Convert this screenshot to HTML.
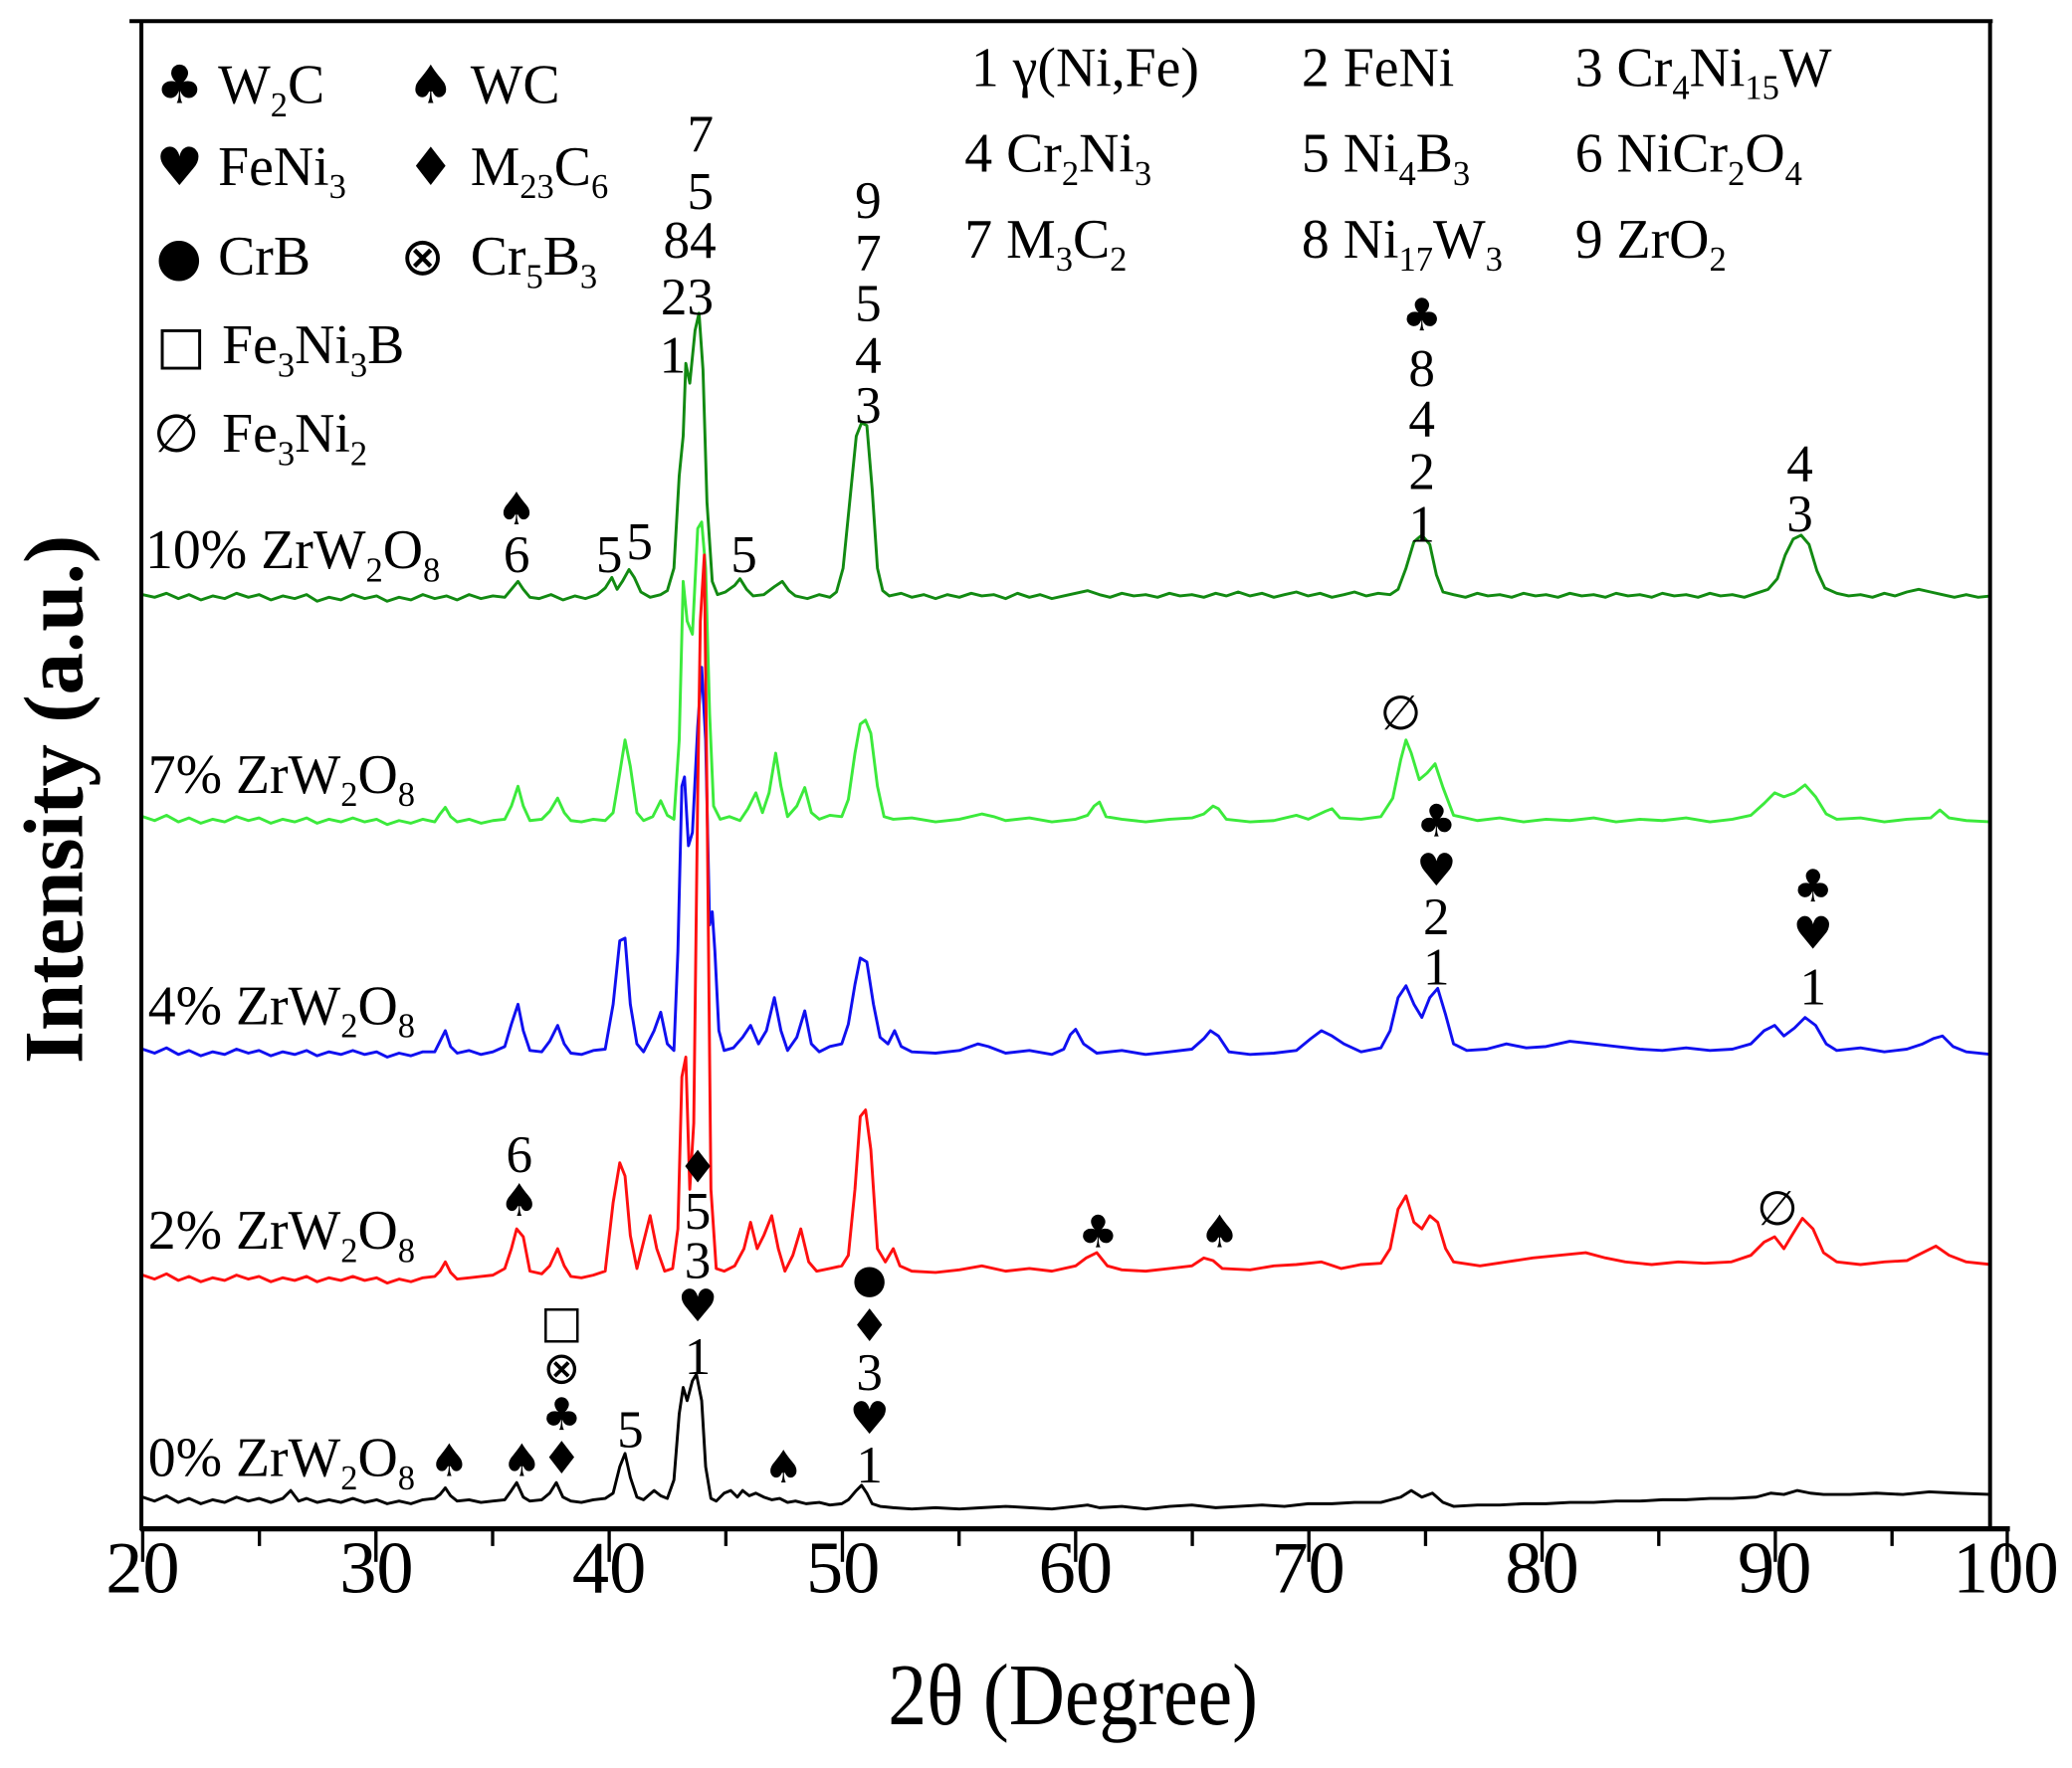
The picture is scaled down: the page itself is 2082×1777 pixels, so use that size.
<!DOCTYPE html>
<html><head><meta charset="utf-8"><style>
html,body{margin:0;padding:0;background:#fff;}
svg{display:block;}
text{font-family:"Liberation Serif","DejaVu Serif",serif;fill:#000;}
.s{font-family:"DejaVu Sans",sans-serif;}
</style></head><body>
<svg width="2082" height="1777" viewBox="0 0 1568 1338" preserveAspectRatio="none" xmlns="http://www.w3.org/2000/svg">
<rect width="1568" height="1338" fill="#fff"/>
<g fill="none" stroke-width="2.2" stroke-linejoin="round">
<polyline stroke="#128a12" points="108,450 117,452 126,449 135,453 143,450 152,454 161,451 170,453 179,449 188,452 196,450 205,454 214,451 223,453 232,450 240,455 249,452 258,454 267,450 276,453 285,451 293,455 302,452 311,454 320,450 329,453 338,451 346,454 355,450 364,453 373,451 382,452 387,446 392,440 396,446 401,452 408,453 417,450 426,454 435,451 443,453 452,450 458,445 463,437 467,446 471,440 476,431 480,437 485,448 492,452 500,450 505,447 510,430 514,360 517,330 519,275 522,290 526,250 529,237 532,280 535,380 539,440 543,450 549,448 556,443 560,438 565,446 570,451 578,450 586,444 592,440 597,447 602,451 611,453 620,450 628,452 633,448 638,430 643,380 648,330 652,320 656,322 660,370 664,430 668,447 673,451 682,449 690,452 699,450 708,453 717,450 726,452 735,449 743,451 752,450 761,453 770,449 779,452 787,450 796,453 805,451 814,449 823,447 832,450 840,452 849,449 858,451 867,450 876,452 885,449 893,451 902,450 911,452 920,449 928,451 937,448 946,451 955,449 964,452 972,450 981,448 990,451 999,449 1008,452 1017,450 1025,448 1034,451 1043,449 1052,450 1058,446 1064,430 1070,410 1076,405 1082,412 1087,435 1092,448 1100,450 1109,452 1118,449 1126,451 1135,450 1144,452 1153,449 1162,451 1170,450 1179,452 1188,449 1197,451 1206,450 1215,452 1223,449 1232,451 1241,450 1250,452 1258,449 1267,451 1276,450 1285,452 1294,449 1302,451 1311,450 1320,452 1329,449 1338,446 1345,438 1351,420 1357,408 1363,405 1369,412 1375,432 1381,445 1390,449 1399,451 1408,450 1417,452 1426,449 1434,451 1443,448 1452,446 1461,448 1470,450 1479,452 1488,450 1497,452 1507,451"/>
<polyline stroke="#3cea3c" points="108,618 117,621 126,617 135,622 143,619 152,623 161,620 170,622 179,618 188,621 196,619 205,623 214,620 223,622 232,619 240,623 249,620 258,622 267,619 276,622 285,620 293,624 302,621 311,623 320,620 329,622 333,616 337,611 341,618 346,622 355,620 364,623 373,621 382,620 387,610 392,595 396,610 401,621 410,620 416,614 422,604 427,615 432,621 440,622 449,620 458,621 464,615 469,585 473,560 477,580 482,615 487,621 494,618 500,606 505,617 510,620 514,560 517,440 520,470 524,480 528,400 531,395 534,430 537,540 540,610 545,620 552,618 560,621 566,612 572,600 577,615 582,600 587,570 591,595 596,618 603,610 609,596 614,615 620,620 628,617 637,618 642,605 647,570 651,548 655,545 659,555 664,595 669,618 676,620 690,619 708,622 726,620 743,616 752,618 761,621 779,619 796,622 814,620 823,617 828,610 832,607 837,618 849,620 867,622 885,620 902,619 911,616 918,610 922,612 928,620 946,622 964,621 981,617 990,620 1003,614 1008,612 1014,619 1030,620 1045,618 1054,604 1060,575 1064,560 1068,570 1074,590 1080,585 1086,578 1092,596 1100,617 1118,621 1135,619 1153,622 1170,620 1188,621 1206,619 1223,622 1241,620 1258,621 1276,619 1294,622 1311,620 1325,617 1335,608 1343,600 1350,603 1358,600 1366,594 1374,603 1382,616 1390,620 1408,619 1426,622 1443,620 1461,619 1468,613 1475,619 1488,621 1507,622"/>
<polyline stroke="#1010f0" points="108,794 117,797 126,793 135,798 143,795 152,799 161,796 170,798 179,794 188,797 196,795 205,799 214,796 223,798 232,795 240,799 249,796 258,798 267,795 276,798 285,796 293,800 302,797 311,799 320,796 329,796 333,788 337,780 341,792 346,797 355,795 364,798 373,796 382,792 387,775 392,760 396,780 401,795 410,796 416,788 422,776 427,790 432,797 440,798 449,795 458,794 464,760 469,712 473,710 477,760 482,790 487,796 495,780 500,766 505,790 510,795 513,720 516,595 518,588 521,640 524,630 528,550 531,505 534,560 537,700 539,690 541,720 544,780 548,795 555,793 562,785 568,776 574,790 580,780 586,755 591,780 596,795 603,785 609,765 614,790 620,796 628,792 637,790 642,775 647,745 651,725 656,728 661,760 666,785 672,790 677,780 682,792 690,796 708,797 726,795 740,790 748,792 761,797 779,795 796,798 805,794 810,783 814,779 820,790 830,797 849,795 867,798 885,796 902,794 911,786 916,780 922,784 930,796 946,798 964,797 981,795 992,786 1000,780 1008,784 1017,790 1030,796 1045,793 1052,780 1058,755 1064,746 1070,760 1076,770 1082,755 1088,748 1094,768 1100,790 1110,795 1125,794 1140,790 1155,793 1170,792 1188,788 1206,790 1223,792 1241,794 1258,795 1276,793 1294,795 1311,794 1325,790 1335,780 1343,776 1350,784 1358,778 1366,770 1374,776 1382,790 1390,795 1408,793 1426,796 1443,794 1455,790 1463,786 1470,784 1478,792 1488,796 1507,798"/>
<polyline stroke="#ff1010" points="108,965 117,968 126,964 135,969 143,966 152,970 161,967 170,969 179,965 188,968 196,966 205,970 214,967 223,969 232,966 240,970 249,967 258,969 267,966 276,969 285,967 293,971 302,968 311,970 320,967 329,966 333,962 337,955 341,963 346,968 355,967 364,966 373,965 382,960 387,945 391,930 396,936 401,962 410,964 416,958 422,945 427,958 432,966 440,967 449,965 458,962 464,910 469,880 473,890 477,935 482,960 487,940 492,920 497,945 503,962 509,960 513,930 516,815 519,800 522,900 525,850 528,600 530,470 533,420 535,600 538,900 542,960 548,962 556,958 563,945 568,925 573,945 578,935 584,920 589,945 594,962 600,950 606,930 612,955 618,962 628,960 637,958 642,950 647,900 651,845 655,840 659,870 664,945 670,955 676,945 681,958 690,962 708,963 726,961 743,958 761,962 779,960 796,962 814,958 822,952 830,948 838,958 849,961 867,962 885,960 902,958 911,952 918,954 925,960 946,961 964,958 981,957 1000,955 1015,960 1030,957 1045,956 1052,945 1058,915 1064,905 1070,925 1076,930 1082,920 1088,925 1094,945 1100,955 1120,958 1140,955 1160,952 1180,950 1200,948 1215,952 1230,955 1250,957 1270,955 1290,956 1310,955 1325,950 1335,940 1343,936 1350,945 1356,935 1364,922 1372,930 1380,948 1390,955 1408,957 1426,955 1443,954 1455,948 1465,943 1475,950 1488,955 1507,957"/>
<polyline stroke="#000" points="108,1133 117,1136 126,1132 135,1137 143,1134 152,1138 161,1135 170,1137 179,1133 188,1136 196,1134 205,1137 214,1134 220,1128 226,1136 232,1134 240,1137 249,1135 258,1137 267,1134 276,1137 285,1135 293,1138 302,1136 311,1138 320,1135 329,1134 333,1131 337,1126 341,1132 346,1136 355,1135 364,1137 373,1136 382,1135 387,1128 391,1122 396,1133 401,1136 410,1135 416,1130 421,1122 426,1133 432,1136 440,1137 449,1135 458,1134 464,1130 469,1110 473,1100 477,1118 482,1133 487,1135 495,1128 500,1132 505,1134 510,1120 514,1070 517,1050 520,1060 524,1045 527,1040 531,1060 534,1110 538,1134 542,1136 548,1130 553,1128 558,1133 562,1128 567,1132 572,1130 578,1133 584,1135 590,1134 596,1137 602,1136 610,1138 620,1137 628,1139 637,1138 642,1135 648,1128 652,1124 656,1130 660,1138 666,1140 676,1141 690,1142 708,1141 726,1142 743,1141 761,1140 779,1141 796,1142 814,1140 823,1139 832,1141 849,1140 867,1142 885,1140 902,1139 920,1141 937,1140 955,1139 972,1140 990,1138 1008,1138 1025,1137 1045,1137 1060,1133 1068,1128 1076,1133 1084,1130 1092,1137 1100,1140 1118,1139 1135,1139 1153,1138 1170,1138 1188,1137 1206,1137 1223,1136 1241,1136 1258,1135 1276,1135 1294,1134 1311,1134 1329,1133 1340,1130 1350,1131 1360,1128 1370,1130 1380,1131 1400,1131 1420,1130 1440,1131 1460,1129 1480,1130 1507,1131"/>
</g>
<!-- frame -->
<line x1="98" y1="16" x2="1508" y2="16" stroke="#000" stroke-width="3"/>
<line x1="107" y1="16" x2="107" y2="1158" stroke="#000" stroke-width="3"/>
<line x1="1506" y1="16" x2="1506" y2="1158" stroke="#000" stroke-width="3"/>
<line x1="106" y1="1157" x2="1521" y2="1157" stroke="#000" stroke-width="4"/>
<g stroke="#000" stroke-width="2.5">
<line x1="108" y1="1158" x2="108" y2="1182"/><line x1="196.3" y1="1158" x2="196.3" y2="1170"/>
<line x1="284.5" y1="1158" x2="284.5" y2="1182"/><line x1="372.8" y1="1158" x2="372.8" y2="1170"/>
<line x1="461" y1="1158" x2="461" y2="1182"/><line x1="549.3" y1="1158" x2="549.3" y2="1170"/>
<line x1="637.5" y1="1158" x2="637.5" y2="1182"/><line x1="725.8" y1="1158" x2="725.8" y2="1170"/>
<line x1="814" y1="1158" x2="814" y2="1182"/><line x1="902.3" y1="1158" x2="902.3" y2="1170"/>
<line x1="990.5" y1="1158" x2="990.5" y2="1182"/><line x1="1078.8" y1="1158" x2="1078.8" y2="1170"/>
<line x1="1167" y1="1158" x2="1167" y2="1182"/><line x1="1255.3" y1="1158" x2="1255.3" y2="1170"/>
<line x1="1343.5" y1="1158" x2="1343.5" y2="1182"/><line x1="1431.8" y1="1158" x2="1431.8" y2="1170"/>
<line x1="1519" y1="1158" x2="1519" y2="1182"/>
</g>
<g font-size="56" text-anchor="middle">
<text x="108" y="1205">20</text><text x="285" y="1205">30</text><text x="461" y="1205">40</text>
<text x="638" y="1205">50</text><text x="814" y="1205">60</text><text x="990" y="1205">70</text>
<text x="1167" y="1205">80</text><text x="1343" y="1205">90</text><text x="1518" y="1205" textLength="80" lengthAdjust="spacingAndGlyphs">100</text>
</g>
<text x="812" y="1305" font-size="66" text-anchor="middle" textLength="280" lengthAdjust="spacingAndGlyphs">2θ (Degree)</text>
<text transform="translate(62,605) rotate(-90)" font-size="64" text-anchor="middle" textLength="400" lengthAdjust="spacingAndGlyphs" font-weight="bold">Intensity (a.u.)</text>

<g font-size="42">
<text class="s" x="118" y="78" font-size="40">♣</text><text x="165" y="78">W<tspan font-size="26" dy="10">2</tspan><tspan dy="-10">C</tspan></text>
<text class="s" x="308" y="78" font-size="40">♠</text><text x="356" y="78">WC</text>
<text class="s" x="118" y="140" font-size="40">♥</text><text x="165" y="140">FeNi<tspan font-size="26" dy="10">3</tspan></text>
<text class="s" x="308" y="140" font-size="40">♦</text><text x="356" y="140">M<tspan font-size="26" dy="10">23</tspan><tspan dy="-10">C</tspan><tspan font-size="26" dy="10">6</tspan></text>
<text class="s" x="118" y="208" font-size="40">●</text><text x="165" y="208">CrB</text>
<text class="s" x="303" y="208" font-size="40">⊗</text><text x="356" y="208">Cr<tspan font-size="26" dy="10">5</tspan><tspan dy="-10">B</tspan><tspan font-size="26" dy="10">3</tspan></text>
<text class="s" x="118" y="275" font-size="40">□</text><text x="168" y="275">Fe<tspan font-size="26" dy="10">3</tspan><tspan dy="-10">Ni</tspan><tspan font-size="26" dy="10">3</tspan><tspan dy="-10">B</tspan></text>
<text class="s" x="116" y="342" font-size="40">∅</text><text x="168" y="342">Fe<tspan font-size="26" dy="10">3</tspan><tspan dy="-10">Ni</tspan><tspan font-size="26" dy="10">2</tspan></text>
</g>
<g font-size="42">
<text x="735" y="65">1 γ(Ni,Fe)</text>
<text x="985" y="65">2  FeNi</text>
<text x="1192" y="65">3  Cr<tspan font-size="26" dy="10">4</tspan><tspan dy="-10">Ni</tspan><tspan font-size="26" dy="10">15</tspan><tspan dy="-10">W</tspan></text>
<text x="730" y="130">4 Cr<tspan font-size="26" dy="10">2</tspan><tspan dy="-10">Ni</tspan><tspan font-size="26" dy="10">3</tspan></text>
<text x="985" y="130">5  Ni<tspan font-size="26" dy="10">4</tspan><tspan dy="-10">B</tspan><tspan font-size="26" dy="10">3</tspan></text>
<text x="1192" y="130">6  NiCr<tspan font-size="26" dy="10">2</tspan><tspan dy="-10">O</tspan><tspan font-size="26" dy="10">4</tspan></text>
<text x="730" y="195">7 M<tspan font-size="26" dy="10">3</tspan><tspan dy="-10">C</tspan><tspan font-size="26" dy="10">2</tspan></text>
<text x="985" y="195">8  Ni<tspan font-size="26" dy="10">17</tspan><tspan dy="-10">W</tspan><tspan font-size="26" dy="10">3</tspan></text>
<text x="1192" y="195">9  ZrO<tspan font-size="26" dy="10">2</tspan></text>
</g>
<g font-size="42">
<text x="110" y="430">10% ZrW<tspan font-size="26" dy="10">2</tspan><tspan dy="-10">O</tspan><tspan font-size="26" dy="10">8</tspan></text>
<text x="112" y="600">7% ZrW<tspan font-size="26" dy="10">2</tspan><tspan dy="-10">O</tspan><tspan font-size="26" dy="10">8</tspan></text>
<text x="112" y="775">4% ZrW<tspan font-size="26" dy="10">2</tspan><tspan dy="-10">O</tspan><tspan font-size="26" dy="10">8</tspan></text>
<text x="112" y="945">2% ZrW<tspan font-size="26" dy="10">2</tspan><tspan dy="-10">O</tspan><tspan font-size="26" dy="10">8</tspan></text>
<text x="112" y="1117">0% ZrW<tspan font-size="26" dy="10">2</tspan><tspan dy="-10">O</tspan><tspan font-size="26" dy="10">8</tspan></text>
</g>
<g font-size="40" text-anchor="middle">
<text class="s" x="391" y="397" font-size="34">♠</text><text x="391" y="433">6</text>
<text x="461" y="433">5</text><text x="484" y="423">5</text><text x="563" y="433">5</text>
<text x="530" y="115">7</text><text x="530" y="158">5</text><text x="522" y="195">84</text><text x="520" y="238">23</text><text x="509" y="282">1</text>
<text x="657" y="165">9</text><text x="657" y="205">7</text><text x="657" y="243">5</text><text x="657" y="282">4</text><text x="657" y="320">3</text>
<text class="s" x="1076" y="250" font-size="34">♣</text><text x="1076" y="292">8</text><text x="1076" y="330">4</text><text x="1076" y="370">2</text><text x="1076" y="410">1</text>
<text x="1362" y="364">4</text><text x="1362" y="402">3</text>
<text class="s" x="1060" y="552" font-size="36">∅</text>
<text class="s" x="1087" y="633" font-size="34">♣</text><text class="s" x="1087" y="670" font-size="34">♥</text><text x="1087" y="707">2</text><text x="1087" y="745">1</text>
<text class="s" x="1372" y="682" font-size="34">♣</text><text class="s" x="1372" y="718" font-size="34">♥</text><text x="1372" y="760">1</text>
<text x="393" y="887">6</text><text class="s" x="393" y="920" font-size="34">♠</text>
<text class="s" x="528" y="895" font-size="34">♦</text><text x="528" y="930">5</text><text x="528" y="967">3</text><text class="s" x="528" y="1000" font-size="34">♥</text><text x="528" y="1040">1</text>
<text class="s" x="831" y="944" font-size="34">♣</text><text class="s" x="923" y="944" font-size="34">♠</text>
<text class="s" x="1345" y="927" font-size="36">∅</text>
<text class="s" x="658" y="978" font-size="30">●</text><text class="s" x="658" y="1015" font-size="34">♦</text><text x="658" y="1052">3</text><text class="s" x="658" y="1085" font-size="34">♥</text><text x="658" y="1122">1</text>
<text class="s" x="425" y="1012" font-size="34">□</text><text class="s" x="425" y="1047" font-size="34">⊗</text><text class="s" x="425" y="1082" font-size="34">♣</text><text class="s" x="425" y="1115" font-size="34">♦</text>
<text class="s" x="340" y="1117" font-size="34">♠</text><text class="s" x="395" y="1117" font-size="34">♠</text><text x="477" y="1095">5</text><text class="s" x="593" y="1122" font-size="34">♠</text>
</g>
</svg>
</body></html>
